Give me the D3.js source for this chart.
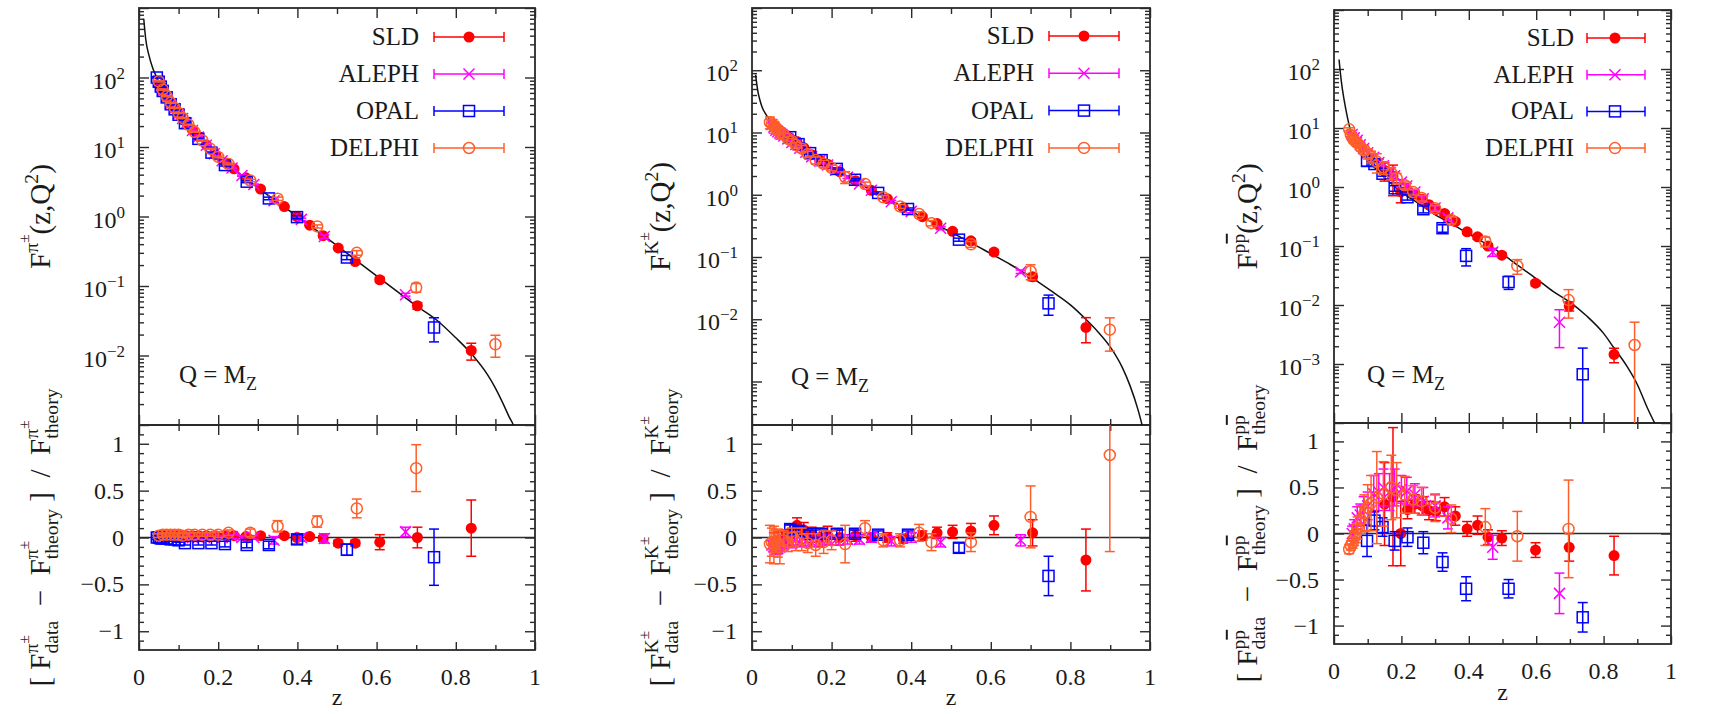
<!DOCTYPE html>
<html><head><meta charset="utf-8">
<script src="https://cdn.jsdelivr.net/npm/d3@7/dist/d3.min.js"></script>
<style>
 html,body{margin:0;padding:0;background:#fff;}
</style></head>
<body>
<svg id="chart" width="1722" height="714" font-family="'Liberation Serif', 'DejaVu Serif', 'Times New Roman', serif"></svg>
<script>
// ================= DATA =================
const experiments = ["SLD","ALEPH","OPAL","DELPHI"];
const expColors = ["#ff0000","#ff00ff","#0000ff","#ff5e2a"];
const expMarkers = ["filledCircle","cross","square","openCircle"];
const xTicks = [0,0.2,0.4,0.6,0.8,1];
const xTickLabels = ["0","0.2","0.4","0.6","0.8","1"];
const ratioTicks = [-1,-0.5,0,0.5,1];
const ratioTickLabels = ["\u22121","\u22120.5","0","0.5","1"];
const decadeLabelsPi = [-2,-1,0,1,2];
const decadeLabelsK = [-2,-1,0,1,2];
const decadeLabelsP = [-3,-2,-1,0,1,2];

// ---- pions ----
const thPiZ = [0.012,0.017,0.025,0.035,0.045,0.06,0.08,0.1,0.12,0.14,0.17,0.2,0.25,0.3,0.35,0.4,0.45,0.5,0.55,0.6,0.65,0.7,0.75,0.8,0.84,0.88,0.9,0.92,0.935,0.945,0.95];
const thPiF = [700,355,210,135,100,65,42,30,22,16,10.5,7,4.3,2.6,1.6,1.0,0.62,0.38,0.23,0.14,0.085,0.052,0.033,0.018,0.0105,0.0053,0.0034,0.002,0.0013,0.001,0.0008];
const sldPiZ = [0.055,0.065,0.075,0.085,0.095,0.105,0.12,0.135,0.15,0.17,0.194,0.22,0.24,0.27,0.307,0.367,0.399,0.431,0.465,0.503,0.546,0.608,0.703,0.839];
const sldPiF = [76,59,48,39,33,28,22.3,17.6,14.2,10.7,7.7,5.9,4.85,3.6,2.48,1.39,1.0,0.75,0.53,0.353,0.225,0.123,0.052,0.0118];
const sldPiR = [0.02,0.02,0.02,0.02,0.02,0.02,0.02,0.02,0.02,0.02,0.02,0.02,0.02,0.01,0.02,0.02,0.0,0.01,-0.01,-0.06,-0.06,-0.05,0.0,0.1];
const sldPiE = [0.02,0.02,0.02,0.02,0.02,0.02,0.02,0.02,0.02,0.02,0.02,0.02,0.02,0.02,0.02,0.02,0.02,0.02,0.03,0.03,0.03,0.08,0.11,0.3];
const alephPiZ = [0.05,0.06,0.07,0.08,0.09,0.1,0.11,0.12,0.135,0.15,0.17,0.19,0.21,0.235,0.26,0.29,0.341,0.41,0.468,0.673];
const alephPiF = [87,65,52.7,42,35.9,30,25.7,22.2,17.3,13.9,10.6,8.0,6.35,5.0,3.88,2.88,1.69,0.91,0.515,0.075];
const alephPiR = [0.0,0.0,0.01,0.0,0.01,0.0,0.0,0.01,0.0,0.0,0.01,0.0,0.0,0.01,0.0,0.0,-0.03,0.0,-0.01,0.06];
const alephPiE = [0.02,0.02,0.02,0.02,0.02,0.02,0.02,0.02,0.02,0.02,0.02,0.02,0.02,0.02,0.02,0.02,0.04,0.04,0.05,0.05];
const opalPiZ = [0.045,0.05,0.055,0.06,0.07,0.08,0.09,0.1,0.116,0.15,0.183,0.217,0.272,0.328,0.399,0.525,0.745];
const opalPiF = [100,87,74,64,51.7,41.2,34.8,29.1,22,13.1,8.3,5.5,3.17,1.82,0.98,0.257,0.0253];
const opalPiR = [0.0,0.0,-0.01,-0.01,-0.01,-0.02,-0.02,-0.03,-0.06,-0.06,-0.06,-0.07,-0.08,-0.08,-0.02,-0.13,-0.21];
const opalPiE = [0.02,0.02,0.02,0.02,0.02,0.02,0.02,0.02,0.02,0.02,0.02,0.03,0.03,0.04,0.05,0.06,0.3];
const delphiPiZ = [0.05,0.06,0.07,0.08,0.09,0.1,0.11,0.125,0.14,0.16,0.18,0.2,0.226,0.281,0.35,0.45,0.55,0.7,0.9];
const delphiPiF = [88,67,53.8,43.3,36.5,30.9,26.2,20.9,16.5,12.4,9.4,7.2,5.7,3.3,1.8,0.72,0.30,0.095,0.0145];
const delphiPiR = [0.02,0.03,0.03,0.03,0.03,0.03,0.02,0.03,0.03,0.03,0.03,0.03,0.05,0.05,0.12,0.17,0.31,0.74,3.3];
const delphiPiE = [0.02,0.02,0.02,0.02,0.02,0.02,0.02,0.02,0.02,0.02,0.02,0.03,0.03,0.04,0.06,0.06,0.1,0.25,1.5];

// ---- kaons ----
const thKZ = [0.009,0.012,0.015,0.02,0.025,0.035,0.044,0.06,0.08,0.1,0.15,0.2,0.25,0.3,0.35,0.4,0.45,0.5,0.55,0.6,0.65,0.7,0.75,0.8,0.84,0.87,0.9,0.93,0.95,0.97,0.985];
const thKF = [85,60,45,33,26,19.5,16,12.5,9.5,7.3,4.3,2.8,1.8,1.18,0.8,0.54,0.37,0.25,0.17,0.113,0.075,0.048,0.029,0.017,0.0098,0.0062,0.0036,0.0017,0.00085,0.00035,0.00015];
const sldKZ = [0.055,0.065,0.075,0.085,0.095,0.113,0.13,0.15,0.17,0.19,0.22,0.26,0.3,0.34,0.38,0.428,0.465,0.504,0.55,0.608,0.705,0.839];
const sldKF = [12.8,11.2,10.0,8.9,8.2,7.2,5.7,4.4,3.62,3.1,2.35,1.68,1.18,0.865,0.62,0.445,0.345,0.258,0.182,0.12,0.048,0.0074];
const sldKR = [-0.05,-0.04,-0.02,0.0,0.05,0.13,0.08,0.03,0.0,0.02,0.0,0.02,0.0,0.0,-0.01,0.02,0.05,0.06,0.07,0.13,0.05,-0.24];
const sldKE = [0.1,0.1,0.08,0.08,0.08,0.08,0.08,0.08,0.1,0.1,0.08,0.06,0.05,0.05,0.05,0.05,0.06,0.07,0.08,0.1,0.14,0.33];
const alephKZ = [0.05,0.055,0.06,0.065,0.07,0.075,0.08,0.09,0.1,0.11,0.12,0.135,0.15,0.17,0.19,0.21,0.24,0.27,0.3,0.35,0.4,0.474,0.675];
const alephKF = [13.4,12.2,10.9,10.3,9.8,9.4,8.8,7.9,6.9,6.4,5.6,4.8,4.1,3.5,3.0,2.48,1.92,1.49,1.18,0.77,0.54,0.29,0.058];
const alephKR = [-0.08,-0.1,-0.13,-0.12,-0.1,-0.08,-0.07,-0.05,-0.06,-0.03,-0.05,-0.04,-0.05,-0.03,-0.02,-0.03,-0.02,-0.02,0.0,-0.04,0.0,-0.05,-0.03];
const alephKE = [0.05,0.05,0.05,0.05,0.05,0.05,0.05,0.05,0.05,0.05,0.05,0.05,0.05,0.05,0.05,0.05,0.05,0.05,0.05,0.05,0.05,0.05,0.06];
const opalKZ = [0.096,0.117,0.146,0.175,0.213,0.259,0.317,0.392,0.52,0.745];
const opalKF = [8.4,6.5,4.66,3.6,2.6,1.74,1.07,0.59,0.19,0.018];
const opalKR = [0.09,0.07,0.04,0.04,0.04,0.04,0.03,0.03,-0.11,-0.41];
const opalKE = [0.05,0.05,0.04,0.04,0.04,0.04,0.04,0.04,0.05,0.21];
const delphiKZ = [0.045,0.05,0.055,0.06,0.065,0.07,0.08,0.09,0.1,0.11,0.125,0.14,0.16,0.18,0.2,0.234,0.284,0.33,0.372,0.42,0.451,0.55,0.70,0.899];
const delphiKF = [14.6,13.9,12.4,12.0,11.0,9.8,9.2,7.9,7.3,6.3,5.5,4.5,3.6,3.15,2.7,1.93,1.49,0.91,0.65,0.49,0.35,0.16,0.059,0.0068];
const delphiKR = [-0.07,-0.05,-0.08,-0.04,-0.06,-0.1,-0.03,-0.05,0.0,-0.04,-0.02,-0.06,-0.08,-0.05,-0.03,-0.07,0.10,-0.03,-0.03,0.05,-0.05,-0.05,0.22,0.88];
const delphiKE = [0.2,0.15,0.2,0.12,0.15,0.18,0.1,0.1,0.1,0.1,0.12,0.1,0.12,0.12,0.1,0.2,0.08,0.07,0.07,0.09,0.09,0.1,0.33,1.03];

// ---- protons ----
const thPZ = [0.015,0.02,0.025,0.03,0.04,0.05,0.06,0.08,0.1,0.125,0.15,0.2,0.25,0.3,0.35,0.4,0.45,0.5,0.55,0.6,0.65,0.7,0.75,0.8,0.83,0.87,0.9,0.93,0.96];
const thPF = [145,75,45,30,15,8.7,6.5,4.1,2.9,2.0,1.45,0.82,0.53,0.34,0.235,0.16,0.11,0.073,0.045,0.028,0.017,0.0112,0.0065,0.0033,0.0019,0.0009,0.00045,0.00018,0.00008];
const sldPZ = [0.15,0.175,0.198,0.218,0.24,0.262,0.282,0.302,0.328,0.36,0.395,0.426,0.457,0.498,0.598,0.698,0.831];
const sldPF = [1.91,1.53,0.83,0.88,0.76,0.62,0.50,0.415,0.356,0.26,0.174,0.143,0.1,0.07,0.0234,0.0096,0.00145];
const sldPR = [0.32,0.40,0.0,0.26,0.32,0.30,0.25,0.24,0.29,0.19,0.05,0.09,-0.04,-0.05,-0.18,-0.15,-0.24];
const sldPE = [0.45,0.75,0.35,0.1,0.1,0.1,0.1,0.1,0.1,0.1,0.08,0.1,0.08,0.08,0.08,0.15,0.21];
const alephPZ = [0.054,0.06,0.069,0.078,0.088,0.1,0.118,0.133,0.147,0.165,0.18,0.2,0.216,0.24,0.265,0.3,0.338,0.471,0.669];
const alephPF = [7.75,6.8,6.2,5.2,4.5,3.8,3.2,2.6,2.3,1.77,1.55,1.21,1.04,0.82,0.63,0.44,0.3,0.079,0.0051];
const alephPR = [0.0,0.05,0.17,0.2,0.25,0.3,0.43,0.45,0.5,0.45,0.5,0.48,0.46,0.42,0.35,0.3,0.17,-0.15,-0.65];
const alephPE = [0.08,0.1,0.12,0.12,0.15,0.15,0.2,0.2,0.2,0.2,0.2,0.15,0.15,0.12,0.15,0.12,0.12,0.13,0.22];
const opalPZ = [0.098,0.12,0.144,0.18,0.218,0.265,0.322,0.392,0.518,0.738];
const opalPF = [2.76,2.45,1.68,0.95,0.67,0.42,0.2,0.068,0.0245,0.00067];
const opalPR = [-0.08,0.14,0.07,-0.08,-0.04,-0.1,-0.31,-0.6,-0.6,-0.91];
const opalPE = [0.17,0.1,0.1,0.1,0.1,0.12,0.1,0.13,0.1,0.16];
const delphiPZ = [0.045,0.05,0.055,0.06,0.065,0.07,0.08,0.09,0.1,0.11,0.127,0.147,0.17,0.186,0.21,0.235,0.26,0.3,0.348,0.449,0.544,0.696,0.892];
const delphiPF = [9.5,7.6,6.75,6.2,5.8,5.5,4.7,4.2,3.7,3.3,2.7,2.16,1.73,1.41,1.07,0.82,0.65,0.435,0.276,0.119,0.046,0.0121,0.0021];
const delphiPR = [-0.17,-0.13,-0.1,-0.05,0.0,0.06,0.15,0.22,0.28,0.33,0.39,0.43,0.5,0.47,0.42,0.37,0.35,0.28,0.16,0.07,-0.03,0.05,2.9];
const delphiPE = [0.05,0.05,0.06,0.08,0.1,0.12,0.15,0.2,0.25,0.3,0.5,0.35,0.35,0.3,0.2,0.15,0.15,0.15,0.15,0.2,0.27,0.53,5.6];

// ================= DRAWING =================
const svg = d3.select("#chart");
const FS = 24, LEGFS = 25, LFS = 29;
const FRAME = "#2a2a2a";
const TXT = "#1a1a1a";

const layouts = [
  {x0:139,x1:535,yT:8,yD:425,yB:650, logMin:1e-3, logMax:1e3, labX:50, legText:116, legL:101, legR:31, legM:66, legY0:37, legDy:37, qx:40, qy:383},
  {x0:752,x1:1150,yT:8,yD:425,yB:650, logMin:2e-4, logMax:1e3, labX:670, legText:116, legL:101, legR:31, legM:66, legY0:36, legDy:37.3, qx:39, qy:385},
  {x0:1334,x1:1671,yT:10,yD:423,yB:644, logMin:1e-4, logMax:1e3, labX:1257, legText:97, legL:84, legR:26, legM:56, legY0:38, legDy:36.7, qx:33, qy:383}
];

function mk(z,f,r,e){ return z.map((v,i)=>({z:v,f:f[i],r:r[i],e:e[i]})); }
const setsPi = [mk(sldPiZ,sldPiF,sldPiR,sldPiE),mk(alephPiZ,alephPiF,alephPiR,alephPiE),mk(opalPiZ,opalPiF,opalPiR,opalPiE),mk(delphiPiZ,delphiPiF,delphiPiR,delphiPiE)];
const setsK = [mk(sldKZ,sldKF,sldKR,sldKE),mk(alephKZ,alephKF,alephKR,alephKE),mk(opalKZ,opalKF,opalKR,opalKE),mk(delphiKZ,delphiKF,delphiKR,delphiKE)];
const setsP = [mk(sldPZ,sldPF,sldPR,sldPE),mk(alephPZ,alephPF,alephPR,alephPE),mk(opalPZ,opalPF,opalPR,opalPE),mk(delphiPZ,delphiPF,delphiPR,delphiPE)];

function rich(parent, x, y, rot, parts, fs) {
  const grp = parent.append("g").attr("transform", `translate(${x},${y}) rotate(${rot})`);
  let cx = 0, grpStart = null;
  const els = [];
  parts.forEach(p => {
    const s = p.s || "n";
    let size = fs, dy = 0;
    if (s === "sup") { size = fs*0.68; dy = -fs*0.42; }
    if (s === "sup2") { size = fs*0.52; dy = -fs*0.72; }
    if (s === "sub") { size = fs*0.68; dy = fs*0.28; }
    let start;
    if (s === "n") { grpStart = null; start = cx; }
    else if (s === "sub" && p.stack && grpStart !== null) { start = grpStart; }
    else { if (grpStart === null) grpStart = cx; start = cx; }
    const t = grp.append("text").attr("x", start).attr("y", dy).attr("font-size", size).attr("fill", TXT)
      .style("white-space","pre").text(p.t);
    if (p.over) t.style("text-decoration","overline");
    const w = t.node().getComputedTextLength();
    if (s === "sub" && p.stack) { cx = Math.max(cx, start + w); grpStart = null; }
    else cx = start + w;
    els.push(t);
  });
  els.forEach(t => t.attr("x", +t.attr("x") - cx/2));
  return grp;
}

function marker(g, type, cx, cy, color) {
  const R = 5.5;
  if (type === "filledCircle") g.append("circle").attr("cx",cx).attr("cy",cy).attr("r",R).attr("fill",color);
  else if (type === "openCircle") g.append("circle").attr("cx",cx).attr("cy",cy).attr("r",R).attr("fill","none").attr("stroke",color).attr("stroke-width",1.5);
  else if (type === "square") g.append("rect").attr("x",cx-R).attr("y",cy-R).attr("width",2*R).attr("height",2*R).attr("fill","none").attr("stroke",color).attr("stroke-width",1.5);
  else if (type === "cross") {
    g.append("line").attr("x1",cx-R).attr("y1",cy-R).attr("x2",cx+R).attr("y2",cy+R).attr("stroke",color).attr("stroke-width",1.5);
    g.append("line").attr("x1",cx-R).attr("y1",cy+R).attr("x2",cx+R).attr("y2",cy-R).attr("stroke",color).attr("stroke-width",1.5);
  }
}

function errbar(g, cx, yLo, yHi, color) {
  g.append("line").attr("x1",cx).attr("x2",cx).attr("y1",yLo).attr("y2",yHi).attr("stroke",color).attr("stroke-width",1.5);
  [yLo,yHi].forEach(yy => g.append("line").attr("x1",cx-5).attr("x2",cx+5).attr("y1",yy).attr("y2",yy).attr("stroke",color).attr("stroke-width",1.5));
}

function drawPanel(idx, L, thZ, thF, sets, decLabels, hadSup) {
  const g = svg.append("g");
  const x = d3.scaleLinear().domain([0,1]).range([L.x0, L.x1]);
  const yU = d3.scaleLog().domain([L.logMin, L.logMax]).range([L.yD, L.yT]);
  const yL = d3.scaleLinear().domain([-1.2,1.2]).range([L.yB, L.yD]);
  const defs = svg.append("defs");
  defs.append("clipPath").attr("id","cu"+idx).append("rect").attr("x",L.x0).attr("y",L.yT).attr("width",L.x1-L.x0).attr("height",L.yD-L.yT);
  defs.append("clipPath").attr("id","cl"+idx).append("rect").attr("x",L.x0).attr("y",L.yD).attr("width",L.x1-L.x0).attr("height",L.yB-L.yD);

  const addAxis = (axis, tx, ty) => {
    const a = g.append("g").attr("transform",`translate(${tx},${ty})`).call(axis);
    a.select(".domain").remove();
    a.selectAll("line").attr("stroke",FRAME).attr("stroke-width",1.4);
    a.selectAll("text").remove();
  };
  const xMinor = [0.1,0.3,0.5,0.7,0.9];
  addAxis(d3.axisTop(x).tickValues(xTicks).tickSize(-10).tickSizeOuter(0), 0, L.yT);
  addAxis(d3.axisTop(x).tickValues(xMinor).tickSize(-6).tickSizeOuter(0), 0, L.yT);
  addAxis(d3.axisBottom(x).tickValues(xTicks).tickSize(-10).tickSizeOuter(0), 0, L.yD);
  addAxis(d3.axisBottom(x).tickValues(xMinor).tickSize(-6).tickSizeOuter(0), 0, L.yD);
  addAxis(d3.axisTop(x).tickValues(xTicks).tickSize(-10).tickSizeOuter(0), 0, L.yD);
  addAxis(d3.axisTop(x).tickValues(xMinor).tickSize(-6).tickSizeOuter(0), 0, L.yD);
  addAxis(d3.axisBottom(x).tickValues(xTicks).tickSize(-8).tickSizeOuter(0), 0, L.yB);
  addAxis(d3.axisBottom(x).tickValues(xMinor).tickSize(-5).tickSizeOuter(0), 0, L.yB);
  const eMin = Math.ceil(Math.log10(L.logMin)-1e-9), eMax = Math.floor(Math.log10(L.logMax)+1e-9);
  const majU = [], minU = [];
  for (let e = eMin-1; e <= eMax; e++) {
    const b = Math.pow(10,e);
    if (b >= L.logMin*0.999 && b <= L.logMax*1.001) majU.push(b);
    for (let k = 2; k <= 9; k++) { const v = k*b; if (v > L.logMin && v < L.logMax) minU.push(v); }
  }
  addAxis(d3.axisLeft(yU).tickValues(majU).tickSize(-10).tickSizeOuter(0), L.x0, 0);
  addAxis(d3.axisLeft(yU).tickValues(minU).tickSize(-5).tickSizeOuter(0), L.x0, 0);
  addAxis(d3.axisRight(yU).tickValues(majU).tickSize(-10).tickSizeOuter(0), L.x1, 0);
  addAxis(d3.axisRight(yU).tickValues(minU).tickSize(-5).tickSizeOuter(0), L.x1, 0);
  const minL = d3.range(-11,12).map(v=>v/10).filter(v => Math.abs(v*2 - Math.round(v*2)) > 1e-6);
  addAxis(d3.axisLeft(yL).tickValues(ratioTicks).tickSize(-10).tickSizeOuter(0), L.x0, 0);
  addAxis(d3.axisLeft(yL).tickValues(minL).tickSize(-5).tickSizeOuter(0), L.x0, 0);
  addAxis(d3.axisRight(yL).tickValues(ratioTicks).tickSize(-10).tickSizeOuter(0), L.x1, 0);
  addAxis(d3.axisRight(yL).tickValues(minL).tickSize(-5).tickSizeOuter(0), L.x1, 0);

  g.append("rect").attr("x",L.x0).attr("y",L.yT).attr("width",L.x1-L.x0).attr("height",L.yB-L.yT)
    .attr("fill","none").attr("stroke",FRAME).attr("stroke-width",1.8);
  g.append("line").attr("x1",L.x0).attr("x2",L.x1).attr("y1",L.yD).attr("y2",L.yD).attr("stroke",FRAME).attr("stroke-width",1.8);
  g.append("line").attr("x1",L.x0).attr("x2",L.x1).attr("y1",yL(0)).attr("y2",yL(0)).attr("stroke",FRAME).attr("stroke-width",1.5);

  xTicks.forEach((v,i) => g.append("text").attr("x",x(v)).attr("y",L.yB+35).attr("text-anchor","middle").attr("font-size",FS).attr("fill",TXT).text(xTickLabels[i]));
  g.append("text").attr("x",(L.x0+L.x1)/2).attr("y",Math.min(L.yB+56, 705)).attr("text-anchor","middle").attr("font-size",FS).attr("fill",TXT).text("z");
  ratioTicks.forEach((v,i) => g.append("text").attr("x",L.x0-15).attr("y",yL(v)+8).attr("text-anchor","end").attr("font-size",FS).attr("fill",TXT).text(ratioTickLabels[i]));
  decLabels.forEach(e => {
    const t = g.append("text").attr("x",L.x0-14).attr("y",yU(Math.pow(10,e))+11).attr("text-anchor","end").attr("font-size",FS).attr("fill",TXT);
    t.append("tspan").text("10");
    t.append("tspan").attr("dy",-10).attr("font-size",17).text(e<0 ? "\u2212"+(-e) : String(e));
  });

  const pts = thZ.map((z,i)=>[z,thF[i]]);
  g.append("path").datum(pts).attr("clip-path",`url(#cu${idx})`)
    .attr("d", d3.line().x(d=>x(d[0])).y(d=>yU(d[1])).curve(d3.curveMonotoneX))
    .attr("fill","none").attr("stroke","#111").attr("stroke-width",1.5);

  const gu = g.append("g").attr("clip-path",`url(#cu${idx})`);
  const gl = g.append("g").attr("clip-path",`url(#cl${idx})`);
  sets.forEach((set, k) => {
    const col = expColors[k], mt = expMarkers[k];
    set.forEach(d => {
      const fe = d.e * d.f / (1 + d.r);
      const lo = Math.max(d.f - fe, L.logMin*0.3), hi = d.f + fe;
      errbar(gu, x(d.z), yU(lo), yU(hi), col);
      marker(gu, mt, x(d.z), yU(d.f), col);
      if (d.r >= -1.2 && d.r <= 1.2) {
        errbar(gl, x(d.z), yL(d.r - d.e), yL(d.r + d.e), col);
        marker(gl, mt, x(d.z), yL(d.r), col);
      }
    });
  });

  experiments.forEach((name, k) => {
    const yy = L.legY0 + k*L.legDy;
    g.append("text").attr("x",L.x1-L.legText).attr("y",yy+8).attr("text-anchor","end").attr("font-size",LEGFS).attr("fill",TXT).text(name);
    const xa = L.x1-L.legL, xb = L.x1-L.legR;
    g.append("line").attr("x1",xa).attr("x2",xb).attr("y1",yy).attr("y2",yy).attr("stroke",expColors[k]).attr("stroke-width",1.5);
    [xa,xb].forEach(xx => g.append("line").attr("x1",xx).attr("x2",xx).attr("y1",yy-5).attr("y2",yy+5).attr("stroke",expColors[k]).attr("stroke-width",1.5));
    marker(g, expMarkers[k], L.x1-L.legM, yy, expColors[k]);
  });

  const q = g.append("text").attr("x",L.x0+L.qx).attr("y",L.qy).attr("font-size",LEGFS).attr("fill",TXT);
  q.append("tspan").text("Q = M");
  q.append("tspan").attr("dy",7).attr("font-size",18).text("Z");

  rich(g, L.labX, (L.yT+L.yD)/2, -90, [{t:"F"}].concat(hadSup).concat([{t:"(z,Q"},{t:"2",s:"sup"},{t:")"}]), LFS);
  const lower = [{t:"[ F"}].concat(hadSup).concat([{t:"data",s:"sub",stack:true},{t:"  \u2212  F"}])
    .concat(hadSup).concat([{t:"theory",s:"sub",stack:true},{t:" ]  /  F"}]).concat(hadSup).concat([{t:"theory",s:"sub",stack:true}]);
  rich(g, L.labX, (L.yD+L.yB)/2, -90, lower, LFS);
}

drawPanel(0, layouts[0], thPiZ, thPiF, setsPi, decadeLabelsPi, [{t:"\u03c0",s:"sup"},{t:"\u00b1",s:"sup2"}]);
drawPanel(1, layouts[1], thKZ, thKF, setsK, decadeLabelsK, [{t:"K",s:"sup"},{t:"\u00b1",s:"sup2"}]);
drawPanel(2, layouts[2], thPZ, thPF, setsP, decadeLabelsP, [{t:"p",s:"sup"},{t:"p",s:"sup",over:true}]);
</script>
</body></html>
